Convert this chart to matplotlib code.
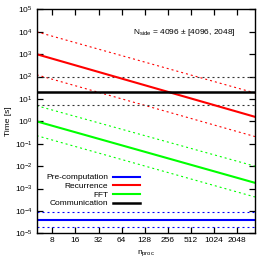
import matplotlib
matplotlib.use("Agg")
import matplotlib.pyplot as plt
from matplotlib.ticker import FixedLocator, NullLocator, FixedFormatter, LogFormatterMathtext

plt.rcParams['font.family'] = ['Liberation Sans', 'DejaVu Sans']
plt.rcParams['mathtext.fontset'] = 'custom'
plt.rcParams['mathtext.rm'] = 'Liberation Sans'
plt.rcParams['mathtext.it'] = 'Liberation Sans'

# end points of each model line
n_proc = [5, 3500]
recurrence = [1000, 1.6]
recurrence_hi = [1.0e4, 18.6]
recurrence_lo = [120, 0.21]
fft = [1.0, 1.8e-3]
fft_hi = [5.0, 1.0e-2]
fft_lo = [0.23, 4.2e-4]
comm = [20.4, 20.4]
comm_hi = [100, 100]
comm_lo = [5.2, 5.2]
precomp = [4.0e-5, 4.0e-5]
precomp_hi = [9.0e-5, 9.0e-5]
precomp_lo = [2.0e-5, 2.0e-5]

xticks = [8, 16, 32, 64, 128, 256, 512, 1024, 2048]
yticks = [10.0**k for k in range(-5, 6)]

fig = plt.figure(figsize=(2.7, 2.7), dpi=100)
ax = fig.add_axes([0.136, 0.136, 0.808, 0.829])

dash = dict(lw=0.8, dashes=(1.8, 2.7))
blue, red, green = '#0000ff', '#ff0000', '#00ff00'

ax.plot(n_proc, precomp_hi, color=blue, **dash)
ax.plot(n_proc, precomp_lo, color=blue, **dash)
ax.plot(n_proc, recurrence_hi, color=red, **dash)
ax.plot(n_proc, recurrence_lo, color=red, **dash)
ax.plot(n_proc, fft_hi, color=green, **dash)
ax.plot(n_proc, fft_lo, color=green, **dash)
ax.plot(n_proc, comm_hi, color='#333333', **dash)
ax.plot(n_proc, comm_lo, color='#333333', **dash)

ax.plot(n_proc, precomp, color=blue, lw=1.5, label='Pre-computation')
ax.plot(n_proc, recurrence, color=red, lw=1.5, label='Recurrence')
ax.plot(n_proc, fft, color=green, lw=1.5, label='FFT')
ax.plot(n_proc, comm, color='black', lw=1.8, label='Communication')

ax.set_xscale('log', base=2)
ax.set_yscale('log')
ax.set_xlim(5, 3500)
ax.set_ylim(1e-5, 1e5)

ax.xaxis.set_major_locator(FixedLocator(xticks))
ax.xaxis.set_major_formatter(FixedFormatter([str(t) for t in xticks]))
ax.xaxis.set_minor_locator(NullLocator())
ax.yaxis.set_major_locator(FixedLocator(yticks))
ax.yaxis.set_major_formatter(LogFormatterMathtext())
ax.yaxis.set_minor_locator(NullLocator())

ax.tick_params(which='major', direction='in', length=4.5, width=0.9,
               top=True, right=True, labelsize=6, pad=3)
for s in ax.spines.values():
    s.set_linewidth(1.0)

ax.set_xlabel(r'n$_{\mathrm{proc}}$', fontsize=6, labelpad=3)
ax.set_ylabel('Time [s]', fontsize=6, labelpad=2)

ax.text(0.443, 0.898, r'N$_{\mathrm{side}}$ = 4096 ± [4096, 2048]',
        transform=ax.transAxes, fontsize=6, ha='left', va='center')

ax.legend(loc='center right', bbox_to_anchor=(0.473, 0.191), frameon=False,
          markerfirst=False, fontsize=6, handlelength=3.2, handletextpad=0.6,
          labelspacing=0.1, borderpad=0, borderaxespad=0)

fig.savefig('out.png', dpi=100)
